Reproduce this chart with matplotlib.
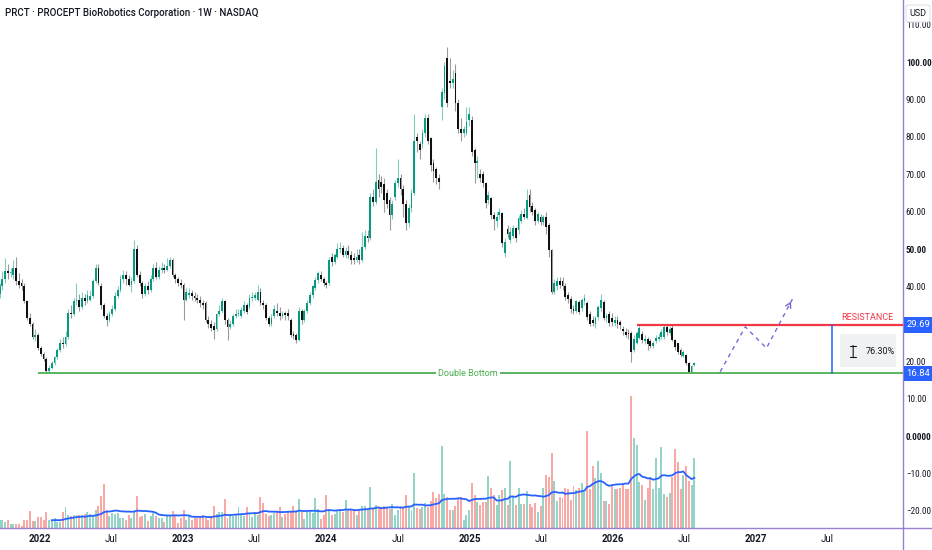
import numpy as np
import pandas as pd
import matplotlib
matplotlib.use("Agg")
import matplotlib.pyplot as plt
import matplotlib.dates as mdates
import matplotlib.transforms as mtransforms
from matplotlib.patches import Rectangle, FancyBboxPatch
from matplotlib.lines import Line2D

plt.rcParams['font.family'] = ['Roboto', 'DejaVu Sans']

# ---------------- data ----------------
first_week = '2021-09-20'

open_ = [38, 40, 42, 44, 43.5, 43, 45, 41.5, 41, 40,
         36, 31.5, 30, 26.5, 27, 23.5, 22, 20.5, 17.3, 18.3,
         19.5, 21, 23, 25, 24.5, 26.5, 33, 32.5, 36, 36.5,
         34.5, 37, 36, 36.5, 37.5, 41.5, 45, 40, 35, 32,
         31, 32.5, 34, 37.5, 39, 42, 43, 42, 40.5, 41.5,
         50, 43, 41, 38, 40, 39, 42, 45, 42.5, 44.5,
         45, 44.5, 45.5, 47, 43, 42, 41, 40.5, 36.5, 37.7,
         38.3, 37.5, 37, 36.5, 35.5, 35.5, 31, 30, 29.5, 28.5,
         32.5, 33.5, 36, 31, 29.2, 30, 32, 32.5, 32, 33.5,
         35, 34.5, 37, 37, 36.5, 38.5, 35.6, 35, 31.5, 30,
         32, 33.5, 33, 32, 32.8, 33, 31, 27.3, 27, 25.8,
         33.5, 31, 33.5, 35.6, 37.7, 39.5, 41.7, 43, 42, 41,
         41, 47.8, 46.5, 48, 50, 50.3, 48.5, 49.5, 48.4, 47.5,
         47, 48.5, 47, 50.5, 53.5, 53, 64, 62.6, 68.5, 68,
         67.5, 65, 63, 59, 64, 67.6, 69, 66, 62, 57,
         61, 65, 80, 78, 78, 81, 85, 79.7, 73, 71.5,
         69, 88, 91.7, 101, 95, 94.5, 97, 89, 82, 81,
         81, 84.5, 84.5, 76.5, 73, 70, 70, 67.6, 63, 63.6,
         59, 57.5, 59, 59.6, 49, 55.3, 52.4, 53.5, 55.6, 55,
         57.6, 59.4, 58.3, 64.4, 61.5, 60.5, 57.6, 58.6, 57.3, 58.6,
         56.4, 49.7, 38.5, 40, 41.5, 41.5, 40, 37.7, 36.7, 34,
         33.5, 35.8, 34.2, 36, 35.6, 32.6, 31, 30, 31.8, 34.2,
         35.8, 31.5, 32.6, 31.5, 30.3, 31, 30.5, 28.5, 27.8, 27.5,
         27.5, 23, 25, 26.2, 27.2, 25.5, 26, 25.4, 24, 25.4,
         26, 26.5, 26.5, 29.2, 27.5, 29, 25.7, 24.8, 23, 21.4,
         21.7, 19.5, 17.2, 19]

high = [41, 44, 47.5, 46, 45, 47, 48, 43.5, 42, 41,
        36.5, 33, 30.5, 28.5, 27.5, 24, 22.5, 21, 19, 20,
        21.5, 23.5, 26, 26.5, 28, 34, 35, 37, 41, 38,
        38.5, 38, 39, 39, 42, 46, 46, 41, 35.5, 33,
        33.5, 35, 38.5, 40, 43, 44.5, 44, 43, 42.5, 52.4,
        51, 44, 41.5, 41, 41.5, 43, 46, 46.5, 45.5, 46.5,
        46, 47.5, 48, 47.5, 43.5, 42.5, 42, 41, 39.5, 39.5,
        39, 38.5, 38, 37.5, 36.5, 36, 32, 31, 30.5, 33,
        35, 37, 36.5, 31.5, 31, 32.5, 34, 34, 34.5, 36,
        35.5, 38, 38.5, 38.5, 40.4, 39.5, 36.5, 35.5, 32, 32.5,
        35, 35.5, 34.5, 33.5, 33.5, 34, 31.5, 28, 27.5, 34.5,
        34, 34, 36.5, 38.5, 40.5, 42.5, 44, 44, 42.5, 41.5,
        48, 49, 49, 51.5, 52, 51, 50.5, 51, 49.5, 49,
        50, 50, 54.5, 55, 55, 65, 66, 77, 70, 69.5,
        69, 66, 64, 63, 68.5, 74, 70, 67, 63, 62,
        66, 86, 81, 79, 82, 86, 86, 80, 74, 72,
        70, 93, 100, 104, 101, 98, 99.5, 90, 85, 83,
        88, 88, 85.5, 77, 75, 71.5, 71, 68, 65.5, 64,
        60, 60, 61, 60, 53, 56.5, 56, 56.5, 56, 59,
        60.5, 61, 66, 66, 62.5, 61, 60, 59.5, 59, 60,
        57, 50, 42, 42.5, 42.5, 42.5, 41, 38.5, 37.5, 35,
        36.5, 36.5, 37, 38, 36, 33.5, 32, 32, 35, 38,
        36.5, 33, 33.5, 33, 32, 32, 31, 29.5, 29, 28.5,
        28, 27, 28, 29.7, 28, 27, 26.5, 26, 25.5, 27,
        27.5, 28.5, 29.69, 29.69, 29.5, 29.8, 26, 25, 23.5, 23,
        22, 19.8, 19, 19.9]

low = [37, 39, 41, 42, 42.5, 42, 40.5, 39.5, 39, 35.5,
       31, 29.5, 26, 25.5, 23, 21.5, 20, 16.9, 16.84, 18,
       19, 20.5, 22.5, 23.5, 24, 26, 31.5, 32, 35, 33.5,
       34, 35, 35.5, 36, 37, 41, 40.5, 34, 31.5, 29.5,
       30.5, 32, 33.5, 37, 38.5, 41, 40.5, 40, 38.5, 41,
       42.5, 40, 37, 37.5, 38, 38.5, 41.5, 42, 42, 43.5,
       43.5, 44, 45, 42.5, 41, 40, 39.5, 31, 36, 37,
       36.5, 36, 35.5, 34.5, 34, 30.5, 29, 28, 26, 28,
       32, 33, 30, 25.7, 28.5, 29.5, 31.5, 32, 31.5, 33,
       32.5, 34, 36, 36.5, 36, 35, 34, 31, 29.5, 29.5,
       31.5, 32, 31, 31.5, 31, 31, 26.5, 26, 25, 25.5,
       30, 30.5, 33, 35, 37, 39, 41, 41.5, 40, 39.5,
       40.5, 45.5, 46, 47.5, 49, 48, 47.5, 47.5, 46, 46,
       46.5, 46, 46.5, 50, 52, 52.5, 61.5, 62, 64, 65,
       60, 61, 55, 58, 63, 66.5, 64.5, 58.5, 55, 56,
       60, 64.5, 76, 74, 77, 80, 78, 71, 68, 67.5,
       66, 84.5, 90, 88, 93, 93, 87, 81, 79, 80,
       80.5, 83, 75, 67.6, 69, 68, 66.5, 61, 62, 58,
       55, 56, 58, 50.5, 48, 53, 51.5, 53, 52, 54,
       57, 58, 58, 60, 59, 56.5, 57, 56.5, 56.5, 54,
       48, 38, 38, 39, 39.5, 39, 36.5, 35.5, 33, 32.5,
       33, 32.5, 33.5, 35, 31, 29.5, 29.5, 29, 31, 33.5,
       31, 30.5, 29.5, 29.5, 29.5, 29, 28.5, 27, 26.5, 26,
       19.8, 22.5, 24.5, 26, 25, 24.5, 23, 23.5, 23.5, 25,
       25.5, 26, 26, 27, 27, 25.5, 23, 22, 21, 21,
       19, 16.84, 16.9, 18.7]

close = [40, 42, 44, 43.5, 43.8, 45, 41.5, 40.5, 40, 36,
         31.5, 30, 26.5, 27, 23.5, 22, 20.5, 17.3, 18.3, 19.5,
         21, 23, 25, 24.5, 26.5, 33, 32.5, 36, 36.5, 34.5,
         37, 36, 37.7, 37.5, 41.5, 45, 41, 35, 32, 31,
         32.5, 34, 37.5, 39, 42, 43, 42, 40.5, 41.5, 50,
         43, 41, 38, 40, 39, 42, 45, 42.5, 44.5, 45,
         44.5, 45.5, 47, 43, 42, 41, 40.5, 36.5, 38.5, 38.3,
         37.5, 37, 36.5, 35.5, 35, 31, 30, 29, 28.3, 32.5,
         33.5, 36, 31, 29.2, 30, 32, 32.5, 33, 33.7, 35,
         33.2, 37, 37.2, 37.6, 38.5, 35.6, 35, 31.5, 30, 31.5,
         34, 33, 32, 32.5, 32.3, 32, 27, 26.7, 25.7, 33.5,
         31, 33.5, 35.6, 37.7, 40, 41.7, 43.6, 42, 41, 40.5,
         47, 46.5, 48.5, 50, 50.3, 48.5, 49.5, 48.5, 47, 47,
         48, 47, 50.5, 53.5, 53, 64, 62.6, 68, 66, 66.5,
         63, 62, 59, 62, 67.6, 69, 66, 62, 57, 61,
         65, 79, 79, 76.5, 81, 85, 79, 72.5, 71, 69,
         68, 92, 99, 89, 94.5, 95.5, 89, 82, 81, 82,
         84, 86, 76, 73, 73.5, 69, 67.6, 62.3, 64.5, 59,
         58, 58.5, 60, 51.6, 52, 54, 54.5, 55.6, 53, 58.3,
         59.4, 58.6, 63, 61.2, 60, 57.6, 59.4, 57.3, 58.5, 56,
         49.7, 38.5, 41, 41.5, 40.5, 40, 37.2, 36.7, 34, 33.5,
         36, 33.2, 36.4, 37, 31.8, 30, 30.2, 31.5, 34.5, 36.4,
         31.5, 32, 30.3, 30.5, 31, 30, 29.7, 28, 27, 27.2,
         22.5, 26, 27.5, 28.9, 25.7, 26, 24.5, 24, 25, 26.2,
         26.5, 27.8, 29.2, 27.8, 28.5, 25.8, 23.8, 22.5, 21.7, 22.5,
         19.5, 17.2, 18.7, 19.5]

# volume overlay, read as the bar-top level on the shared right scale
volume_level = [-22.5, -22.5, -23, -22.5, -23.5, -23.5, -23.5, -23.5, -24, -22.5,
                -22.5, -20, -22.8, -22.8, -21.7, -21.7, -22.5, -20.3, -22.5, -22.5,
                -22, -23, -23, -20.3, -19, -21, -21.5, -21, -21.2, -21,
                -21, -20.8, -20.3, -20.8, -21.5, -19.7, -18.7, -16, -12.8, -19.7,
                -21.5, -20.5, -20.8, -20.5, -22, -22, -22.5, -21, -22, -20,
                -16, -21.7, -21.3, -20.8, -22.8, -21.3, -20.5, -21.3, -22, -22,
                -23, -21.2, -21.5, -20.1, -21, -23.2, -22, -19.7, -22.5, -21.5,
                -22.5, -21.5, -22, -21.3, -21, -22, -22.5, -21.5, -18.7, -20.8,
                -20.3, -20.3, -16.8, -21.8, -21.2, -21.5, -21, -19, -20.8, -21.5,
                -18.9, -20.8, -21.7, -20.3, -21, -16.4, -17.8, -20.8, -21.5, -21.2,
                -20.5, -20.3, -19, -21.7, -20.8, -20.2, -20.3, -18.7, -20.3, -16.8,
                -20.3, -22.3, -20.3, -19.9, -20.5, -16.6, -19.6, -22.3, -21.2, -15.7,
                -19.6, -21.2, -20.8, -19.9, -19.6, -20.2, -17, -19.6, -19.6, -19.9,
                -21.2, -19.9, -18.8, -18.8, -19.5, -13.6, -19.6, -18.5, -19, -19.6,
                -18.8, -19, -19.6, -18.3, -21.2, -19.7, -18.8, -19, -15.8, -19,
                -19.9, -9.9, -19.3, -19.6, -19, -18, -19, -17.5, -15, -16.5,
                -15.5, -2.7, -15.5, -16.3, -19.7, -19.7, -18.8, -16.6, -16.2, -22.5,
                -21, -19.9, -12.5, -15.8, -17.6, -18.5, -17.6, -17.6, -10.7, -13.9,
                -15.8, -18.5, -15.8, -14.4, -13.8, -18.5, -6.7, -16.2, -18.5, -13.8,
                -18.2, -18.2, -14.6, -18.2, -19, -17.8, -20.3, -18.7, -13.8, -10.4,
                -10.9, -4.6, -12, -17.4, -16.2, -16.7, -13.9, -14.2, -17.2, -13.5,
                -14.4, -13.9, -12.5, -15, 1.3, -14.2, -8, -11.3, -6.7, -9.9,
                -17.3, -17.3, -18.3, -13.4, -14.3, -14.3, -14, -12.7, -14.3, -14.3,
                10.7, -0.5, -2.3, -12.2, -13, -17.2, -14, -10.9, -14.2, -6,
                -14, -2.9, -15.5, -16.2, -15.3, -10.9, -3.5, -6.9, -14.2, -10.5,
                -7.9, -12, -13, -5.9]
volume_floor = -24.6
ma_length = 20

support_level = 16.84
resistance_level = 29.69
support_from = '2021-12-27'
resistance_from = '2026-03-02'
projection_dates = ['2026-10-01', '2026-12-04', '2027-01-27', '2027-04-03']
projection_prices = [17.2, 29.2, 23.5, 36.6]
measure_date = '2027-07-14'
measure_text = '76.30%'

y_ticks = [110, 100, 90, 80, 70, 60, 50, 40, 20, 10, 0, -10, -20]
x_tick_dates = ['2022-01-01', '2022-07-01', '2023-01-01', '2023-07-01', '2024-01-01',
                '2024-07-01', '2025-01-01', '2025-07-01', '2026-01-01', '2026-07-01',
                '2027-01-01', '2027-07-01']
x_tick_labels = ['2022', 'Jul', '2023', 'Jul', '2024', 'Jul', '2025', 'Jul', '2026', 'Jul',
                 '2027', 'Jul']

n = len(close)
assert len(open_) == n and len(high) == n and len(low) == n and len(volume_level) == n, \
    (len(open_), len(high), len(low), len(close), len(volume_level))

# ---------------- figure ----------------
W, H = 932, 550
fig = plt.figure(figsize=(W / 100, H / 100), dpi=100)
fig.patch.set_facecolor('white')
ax = fig.add_axes([0, 22 / H, 903 / W, 528 / H])

def dn(s):
    return mdates.date2num(pd.Timestamp(s))

dates = pd.date_range(first_week, periods=n, freq='7D')
x = mdates.date2num(dates)
o = np.array(open_, float)
h = np.array(high, float)
l = np.array(low, float)
c = np.array(close, float)
up = c >= o

xmin, xmax = dn('2021-09-21'), dn('2028-01-10')
ax.set_xlim(xmin, xmax)
ax.set_ylim(-24.6, 116.6)

# volume overlay
vol = np.array(volume_level, float)
vcol = np.where(up, '#93d3c8', '#f7a9a6')
ax.bar(x, vol - volume_floor, bottom=volume_floor, width=5.0, color=vcol,
       linewidth=0, zorder=1)
ma = pd.Series(vol).rolling(ma_length).mean()
ax.plot(x, ma, color='#2962ff', lw=1.3, zorder=1.6)

# candles
ax.vlines(x[up], l[up], h[up], color='#86cbbf', lw=0.8, zorder=2)
ax.vlines(x[~up], l[~up], h[~up], color='#9a9a9a', lw=0.8, zorder=2)
body_lo = np.minimum(o, c)
body_h = np.maximum(np.abs(c - o), 0.3)
ax.bar(x[up], body_h[up], bottom=body_lo[up], width=4.6, color='#089981',
       linewidth=0, zorder=3)
ax.bar(x[~up], body_h[~up], bottom=body_lo[~up], width=4.6, color='#111111',
       linewidth=0, zorder=3)

# support / resistance drawings
ax.plot([dn(support_from), xmax], [support_level, support_level],
        color='#4caf50', lw=1.3, zorder=4, solid_capstyle='butt')
ax.text(dn('2024-12-27'), support_level, 'Double Bottom', ha='center', va='center',
        fontsize=6.5, color='#4caf50', zorder=5,
        bbox=dict(boxstyle='square,pad=0.25', fc='white', ec='none'))
ax.plot([dn(resistance_from), xmax], [resistance_level, resistance_level],
        color='#f23645', lw=1.6, zorder=4, solid_capstyle='butt')
ax.text(dn('2027-12-16'), resistance_level + 0.9, 'RESISTANCE', ha='right',
        va='bottom', fontsize=6.5, color='#f23645', zorder=5)

# projection path
px = [dn(d) for d in projection_dates]
ax.plot(px, projection_prices, color='#7b68d8', lw=1.0, ls=(0, (3, 3)), zorder=4)
ax.annotate('', xy=(px[-1], projection_prices[-1]),
            xytext=(px[-1] - (px[-1] - px[-2]) * 0.15,
                    projection_prices[-1] - (projection_prices[-1] - projection_prices[-2]) * 0.15),
            arrowprops=dict(arrowstyle='->,head_length=0.35,head_width=0.2',
                            color='#7b68d8', lw=1.0), zorder=4)

# measurement
md = dn(measure_date)
ax.plot([md, md], [support_level, resistance_level], color='#2962ff', lw=1.1, zorder=4)
ax.add_patch(Rectangle((dn('2027-08-03'), 18.4), dn('2027-12-24') - dn('2027-08-03'),
                       8.9, fc='#f0f1f3', ec='none', zorder=3.5))
ix = dn('2027-09-05')
ax.annotate('', xy=(ix, 21.0), xytext=(ix, 24.2),
            arrowprops=dict(arrowstyle='|-|,widthA=0.22,widthB=0.22', color='#131722',
                            lw=0.8, shrinkA=0, shrinkB=0), zorder=5)
ax.text(dn('2027-11-13'), 22.6, measure_text, ha='center', va='center', fontsize=6.5,
        color='#131722', zorder=5)

# axes styling
for s in ['top', 'left']:
    ax.spines[s].set_visible(False)
for s in ['right', 'bottom']:
    ax.spines[s].set_color('#9a80d2')
    ax.spines[s].set_linewidth(1.0)

narrow = ['Liberation Sans Narrow', 'Roboto Condensed', 'Roboto', 'DejaVu Sans']
ax.yaxis.tick_right()
ax.set_yticks(y_ticks)
ylab = ['0.0000' if v == 0 else ('\u2212%.2f' % -v if v < 0 else '%.2f' % v) for v in y_ticks]
ax.set_yticklabels(ylab)
ax.tick_params(axis='y', length=0, pad=2, labelsize=6.6, labelcolor='#131722')
for t, v in zip(ax.get_yticklabels(), y_ticks):
    t.set_fontfamily(narrow)
    if v in (100, 50, 0):
        t.set_fontweight('bold')

ax.set_xticks([dn(d) for d in x_tick_dates])
ax.set_xticklabels(x_tick_labels)
ax.tick_params(axis='x', length=0, pad=4, labelsize=7, labelcolor='#131722')
for t in ax.get_xticklabels():
    if t.get_text() != 'Jul':
        t.set_fontweight('bold')

# right-scale price labels
blend = mtransforms.blended_transform_factory(ax.transAxes, ax.transData)
for v in (resistance_level, support_level):
    ax.text(1.004, v, '%.2f' % v, transform=blend, ha='left', va='center', fontsize=6.8,
            color='white', zorder=10, clip_on=False,
            bbox=dict(boxstyle='square,pad=0.32', fc='#2962ff', ec='none'))

# extensions of the scale borders
fig.add_artist(Line2D([903 / W, 903 / W], [0, 22 / H], color='#9a80d2', lw=1.0))
fig.add_artist(Line2D([903 / W, 1], [22 / H, 22 / H], color='#9a80d2', lw=1.0))

# title and currency badge
fig.text(5 / W, 1 - 13 / H, 'PRCT \u00b7 PROCEPT BioRobotics Corporation \u00b7 1W \u00b7 NASDAQ',
         ha='left', va='center', fontsize=7, color='#131722', fontweight='medium')
badge = FancyBboxPatch((906 / W, 1 - 22 / H), 24 / W, 17 / H,
                       boxstyle='round,pad=0,rounding_size=0.004',
                       transform=fig.transFigure, fc='white', ec='#e0e3eb', lw=0.8, zorder=20)
fig.add_artist(badge)
fig.text(918 / W, 1 - 13.5 / H, 'USD', ha='center', va='center', fontsize=6.5,
         color='#131722', zorder=21)

fig.savefig('out.png', dpi=100, facecolor='white')
